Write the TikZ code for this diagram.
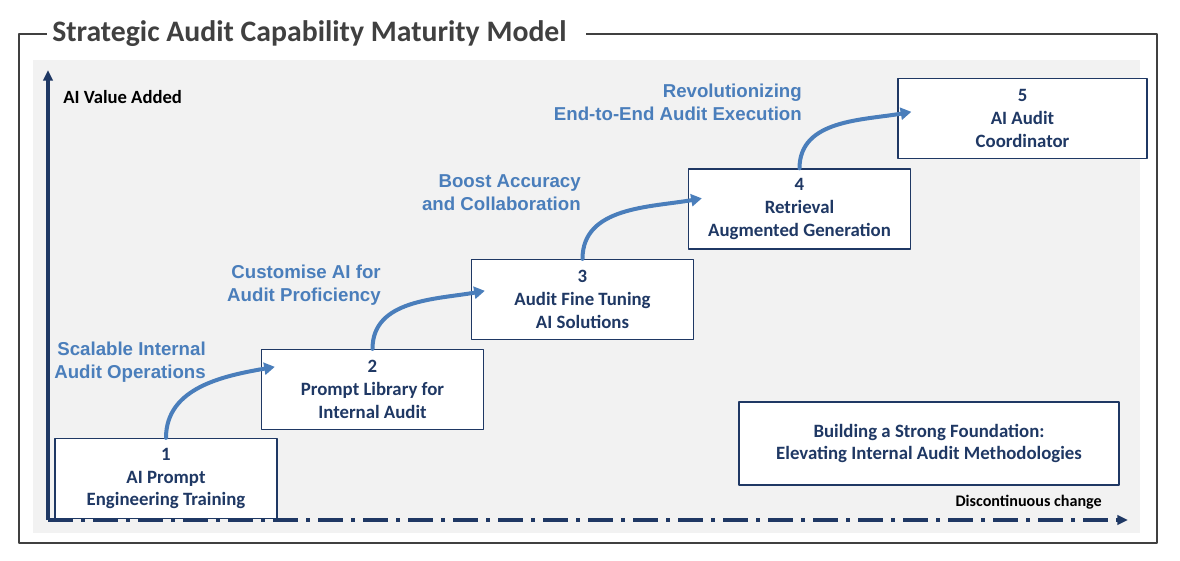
\documentclass[tikz,border=0pt]{standalone}
\usepackage{fontspec}
\setmainfont{Carlito}
\newfontfamily\arialfont{Liberation Sans}
\usetikzlibrary{arrows.meta,positioning,calc}
\definecolor{navy}{HTML}{1F3864}
\definecolor{steel}{HTML}{4A7EBB}
\definecolor{framegray}{HTML}{404040}
\definecolor{panelgray}{HTML}{F2F2F2}
\newlength\pxu
\setlength\pxu{0.75pt}

\begin{document}
\begin{tikzpicture}[
    x=0.75pt,
    y=0.75pt,
    line join=round,
    >=Latex,
    stage/.style={
        draw=navy,
        line width=1pt,
        fill=white,
        text=navy,
        inner sep=0pt,
        minimum width=222\pxu,
        minimum height=80\pxu,
        align=center,
        font=\bfseries\fontsize{14.1}{17.1}\selectfont
    },
    gain/.style={
        anchor=east,
        align=right,
        inner sep=0pt,
        text=steel,
        font=\arialfont\bfseries\fontsize{14}{17.25}\selectfont
    },
    axislabel/.style={inner sep=0pt,text=black,font=\bfseries\fontsize{14}{16}\selectfont},
    axis/.style={line width=2.4pt,navy,-{Triangle[length=8pt,width=7pt]}},
    climb/.style={line width=3pt,steel,line cap=round,-{Triangle[length=8pt,width=9pt]}},
    frame/.style={line width=1.6pt,framegray}
]

\useasboundingbox (0,0) rectangle (1180,-560);
\fill[panelgray] (33,-60) rectangle (1140,-533);

\node[anchor=base west,inner sep=0pt,text=framegray,font=\bfseries\fontsize{22.3}{26}\selectfont] (title) at (52,-41) {Strategic Audit Capability Maturity Model};
\draw[frame] (586,-34) -- (1157,-34) -- (1157,-543) -- (19,-543) -- (19,-34) -- (47,-34);

\coordinate (origin) at (48,-520);
\coordinate (ytop) at (48,-70);
\coordinate (xend) at (1128,-520);
\draw[axis] (origin) -- (ytop);
\draw[axis,dash pattern=on 18.75pt off 6pt on 3pt off 6pt] (origin) -- (xend);
\node[axislabel,anchor=west] (yname) at (63,-97) {AI Value Added};
\node[axislabel,anchor=east,font=\bfseries\fontsize{12.1}{14}\selectfont] (xname) at (1102,-502) {Discontinuous change};

\node[stage] (s1) at (166,-478.5) {1\\AI Prompt\\Engineering Training};
\node[stage] (s2) at (372.5,-389.5) {2\\Prompt Library for\\Internal Audit};
\node[stage] (s3) at (582.5,-299.5) {3\\Audit Fine Tuning\\AI Solutions};
\node[stage] (s4) at (799.5,-209) {4\\Retrieval\\Augmented Generation};
\node[stage,minimum width=249\pxu] (s5) at (1022.5,-118.5) {5\\AI Audit\\Coordinator};
\node[stage,minimum width=380\pxu,minimum height=83\pxu] (base) at (929,-443.5) {Building a Strong Foundation:\\Elevating Internal Audit Methodologies};

\node[gain] (g1) at (206,-362) {Scalable Internal\\Audit Operations};
\node[gain] (g2) at (381,-285) {Customise AI for\\Audit Proficiency};
\node[gain] (g3) at (581,-193) {Boost Accuracy\\and Collaboration};
\node[gain] (g4) at (802,-102) {Revolutionizing\\End-to-End Audit Execution};

\draw[climb] (s1.north) to[out=90,in=190] ($(s2.north west)+(14,-18)$);
\draw[climb] (s2.north) to[out=90,in=190] ($(s3.north west)+(14,-32)$);
\draw[climb] (s3.north) to[out=90,in=190] ($(s4.north west)+(14,-30)$);
\draw[climb] (s4.north) to[out=90,in=190] ($(s5.north west)+(14,-34)$);

\end{tikzpicture}
\end{document}
